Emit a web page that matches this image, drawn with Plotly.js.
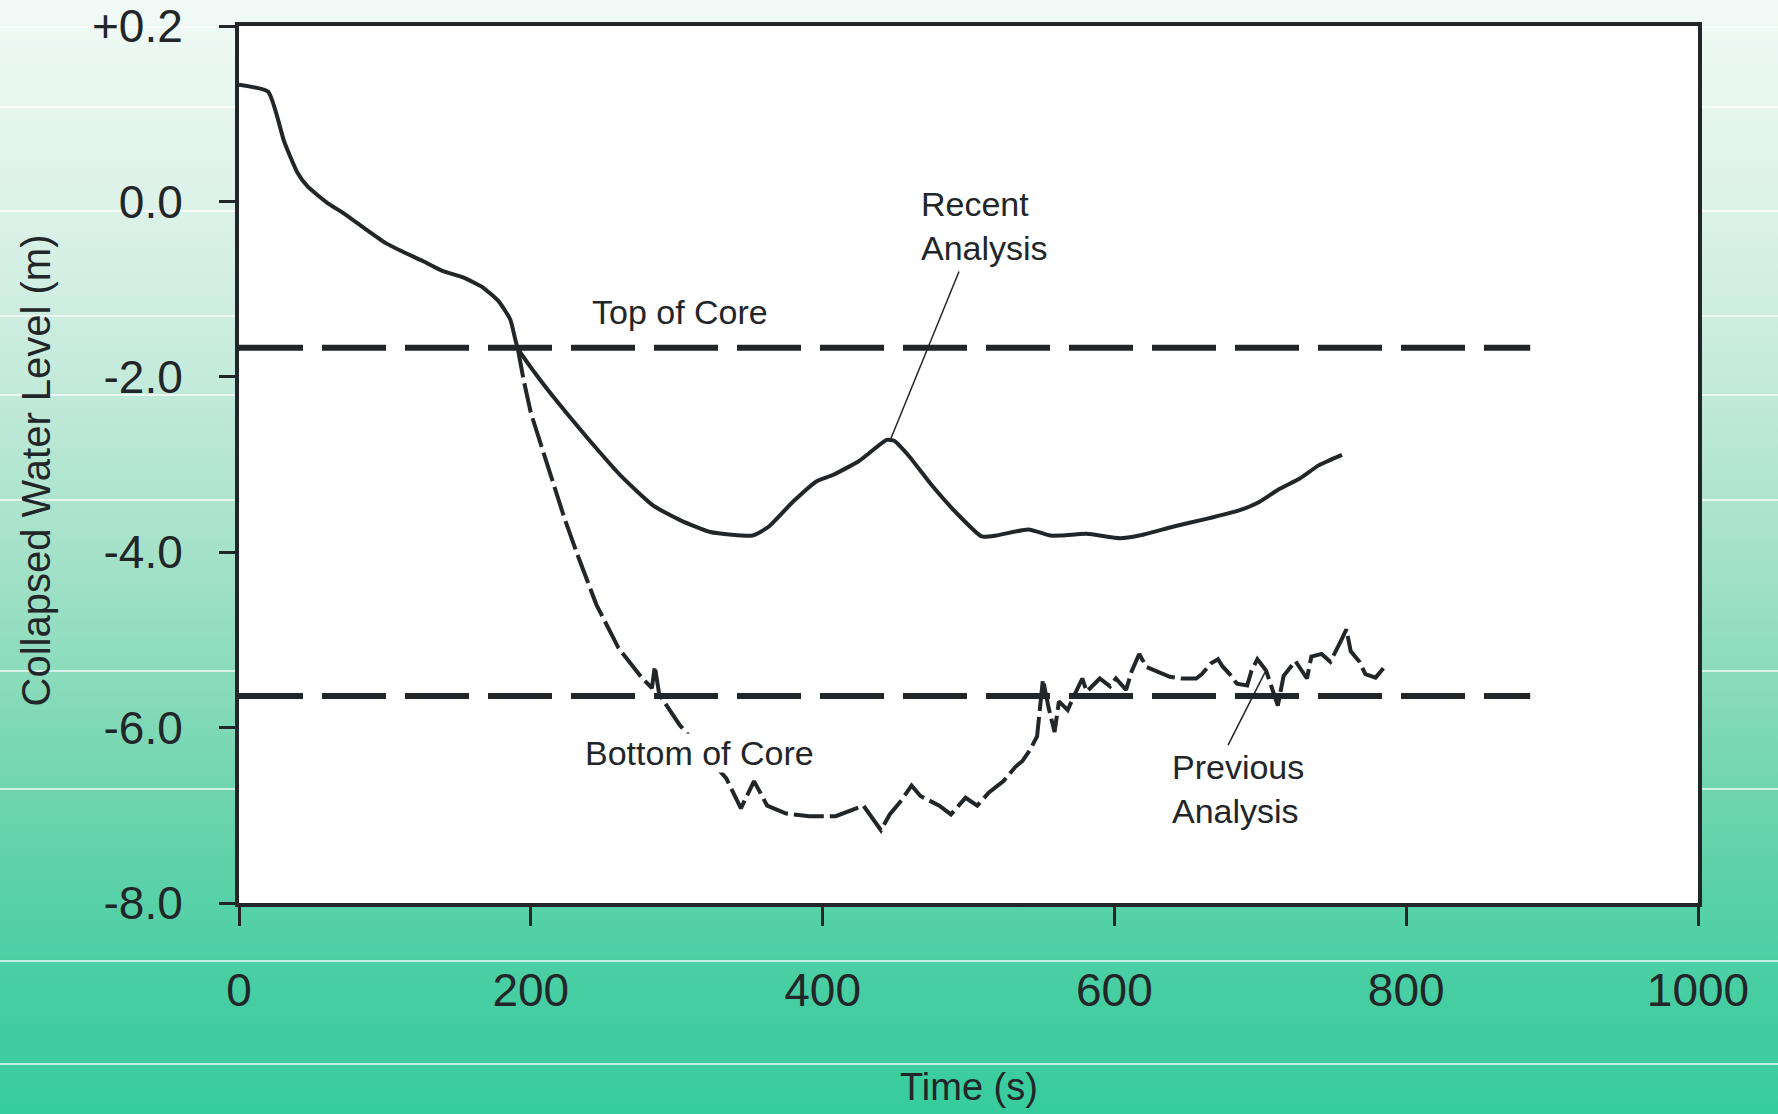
<!DOCTYPE html>
<html>
<head>
<meta charset="utf-8">
<script src="https://cdn.plot.ly/plotly-3.0.1.min.js"></script>
<style>
  html, body { margin: 0; padding: 0; width: 1778px; height: 1114px; overflow: hidden; }
  body {
    background: linear-gradient(to bottom,
      #f1faf6 0%, #dcf2e8 19%, #c2eada 35%, #a2e1c7 51%,
      #82d9b8 64%, #60d2ab 77%, #47cea2 89%, #37cc9d 100%);
  }
  #chart { width: 1778px; height: 1114px; }
</style>
</head>
<body>
<div id="chart"></div>
<script>
// ---- Data ----
// Recent Analysis (solid)
const recentT = [0, 20, 31, 40, 47, 60, 73, 87, 100, 113, 126, 139, 154, 167, 178, 186, 191,
  203, 216, 240, 263, 284, 303, 323, 352, 363, 380, 396, 407, 425, 444, 449, 459, 475, 491,
  509, 519, 541, 556, 563, 581, 604, 617, 640, 663, 686, 699, 713, 727, 740, 756];
const recentY = [1.33, 1.25, 0.68, 0.33, 0.17, -0.01, -0.15, -0.32, -0.47, -0.58, -0.68, -0.79,
  -0.87, -0.98, -1.14, -1.35, -1.67, -1.96, -2.24, -2.72, -3.15, -3.47, -3.64, -3.77, -3.81,
  -3.71, -3.42, -3.19, -3.12, -2.96, -2.72, -2.73, -2.90, -3.24, -3.54, -3.82, -3.81, -3.74,
  -3.81, -3.81, -3.79, -3.84, -3.81, -3.71, -3.62, -3.52, -3.43, -3.28, -3.16, -3.01, -2.89];

// Previous Analysis (dashed)
const previousT = [191, 195, 200, 207, 215, 223, 232, 245, 260, 276, 283, 285, 288, 302,
  334, 344, 353, 362, 375, 391, 409, 420, 428, 440, 446, 454, 461, 467, 480, 488, 498, 506,
  514, 524, 532, 537, 542, 547, 551, 555, 559, 562, 568, 572, 578, 581, 590, 597, 601, 608,
  612, 617, 622, 638, 646, 656, 660, 666, 671, 674, 679, 684, 691, 694, 698, 704, 712, 716,
  724, 732, 735, 742, 748, 755, 759, 762, 768, 772, 779, 785];
const previousY = [-1.67, -2.03, -2.41, -2.78, -3.17, -3.61, -4.03, -4.60, -5.09, -5.43,
  -5.55, -5.30, -5.62, -5.97, -6.58, -6.92, -6.61, -6.89, -6.98, -7.01, -7.01, -6.94, -6.89,
  -7.17, -6.99, -6.83, -6.66, -6.78, -6.89, -6.99, -6.80, -6.89, -6.74, -6.61, -6.45, -6.38,
  -6.26, -6.10, -5.45, -5.78, -6.05, -5.70, -5.80, -5.65, -5.44, -5.59, -5.44, -5.53, -5.44,
  -5.57, -5.35, -5.16, -5.31, -5.42, -5.44, -5.44, -5.39, -5.27, -5.22, -5.30, -5.39, -5.50,
  -5.52, -5.35, -5.22, -5.35, -5.75, -5.41, -5.24, -5.44, -5.19, -5.16, -5.25, -5.02, -4.88,
  -5.13, -5.25, -5.39, -5.43, -5.31];

// Core reference levels
const coreT = [0, 885];
const topOfCore = -1.67;
const bottomOfCore = -5.64;

// Axis ticks
const xTickVals = [0, 200, 400, 600, 800, 1000];
const xTickText = ['0', '200', '400', '600', '800', '1000'];
const yTickVals = [2, 0, -2, -4, -6, -8];
const yTickText = ['+0.2', '0.0', '-2.0', '-4.0', '-6.0', '-8.0'];

// ---- Figure ----
const INK = '#222628';
const FONT = 'Liberation Sans, Arial, Helvetica, sans-serif';
const W = 1778, H = 1114;
const M = {l: 239, r: 80, t: 26, b: 211};
const PW = W - M.l - M.r, PH = H - M.t - M.b;

const traces = [
  {x: coreT, y: coreT.map(() => topOfCore), mode: 'lines', name: 'Top of Core',
   line: {color: INK, width: 6, dash: '64px,19px'}, hoverinfo: 'skip'},
  {x: coreT, y: coreT.map(() => bottomOfCore), mode: 'lines', name: 'Bottom of Core',
   line: {color: INK, width: 6, dash: '64px,19px'}, hoverinfo: 'skip'},
  {x: previousT, y: previousY, mode: 'lines', name: 'Previous Analysis',
   line: {color: INK, width: 4, dash: '30px,6px'}},
  {x: recentT, y: recentY, mode: 'lines', name: 'Recent Analysis',
   line: {color: INK, width: 4, shape: 'spline', smoothing: 0.5}}
];

// thin white bands across the page background
const bandPx = [27, 107, 211, 316, 395, 500, 671, 789, 961, 1064];
const shapes = bandPx.map(py => ({
  type: 'line', xref: 'paper', yref: 'paper', layer: 'below',
  x0: -M.l / PW, x1: (W - M.l) / PW,
  y0: (M.t + PH - py) / PH, y1: (M.t + PH - py) / PH,
  line: {color: 'rgba(255,255,255,0.9)', width: 1.5}
}));
// leader lines
shapes.push({type: 'line', xref: 'x', yref: 'y', x0: 493.5, y0: -0.80, x1: 446.9, y1: -2.70,
             line: {color: INK, width: 1.5}});
shapes.push({type: 'line', xref: 'x', yref: 'y', x0: 677.9, y0: -6.20, x1: 703.2, y1: -5.37,
             line: {color: INK, width: 1.5}});

const annFont = {family: FONT, size: 34, color: INK};
const annotations = [
  {x: 240.6, y: -1.26, xref: 'x', yref: 'y', text: 'Top of Core', showarrow: false,
   xanchor: 'left', yanchor: 'middle', font: annFont},
  {x: 466, y: -0.28, xref: 'x', yref: 'y', text: 'Recent<br>Analysis', showarrow: false,
   xanchor: 'left', yanchor: 'middle', align: 'left', font: annFont},
  {x: 236.5, y: -6.29, xref: 'x', yref: 'y', text: 'Bottom of Core', showarrow: false,
   xanchor: 'left', yanchor: 'middle', font: annFont, bgcolor: '#ffffff', borderpad: 0},
  {x: 638, y: -6.70, xref: 'x', yref: 'y', text: 'Previous<br>Analysis', showarrow: false,
   xanchor: 'left', yanchor: 'middle', align: 'left', font: annFont},
  // axis titles
  {x: 0, y: 0.5, xref: 'paper', yref: 'paper', xshift: -204, yshift: -6,
   text: 'Collapsed Water Level (m)', textangle: -90, showarrow: false,
   xanchor: 'center', yanchor: 'middle', font: {family: FONT, size: 40, color: INK}},
  {x: 0.5, y: 0, xref: 'paper', yref: 'paper', yshift: -(1087 - (M.t + PH)),
   text: 'Time (s)', showarrow: false, xanchor: 'center', yanchor: 'middle',
   font: {family: FONT, size: 38, color: INK}}
];

const layout = {
  width: W, height: H,
  margin: M,
  paper_bgcolor: 'rgba(0,0,0,0)',
  plot_bgcolor: '#ffffff',
  showlegend: false,
  font: {family: FONT, color: INK},
  xaxis: {
    range: [0, 1000], tickvals: xTickVals, ticktext: xTickText,
    showgrid: false, zeroline: false,
    showline: true, linewidth: 4, linecolor: INK, mirror: true,
    ticks: 'outside', ticklen: 19, tickwidth: 3, tickcolor: INK,
    ticklabelstandoff: 25,
    tickfont: {family: FONT, size: 46, color: INK}
  },
  yaxis: {
    range: [-8, 2], tickvals: yTickVals, ticktext: yTickText,
    showgrid: false, zeroline: false,
    showline: true, linewidth: 4, linecolor: INK, mirror: true,
    ticks: 'outside', ticklen: 16, tickwidth: 3, tickcolor: INK,
    ticklabelstandoff: 27,
    tickfont: {family: FONT, size: 46, color: INK}
  },
  shapes: shapes,
  annotations: annotations
};

Plotly.newPlot('chart', traces, layout, {staticPlot: true, displayModeBar: false});
</script>
</body>
</html>
